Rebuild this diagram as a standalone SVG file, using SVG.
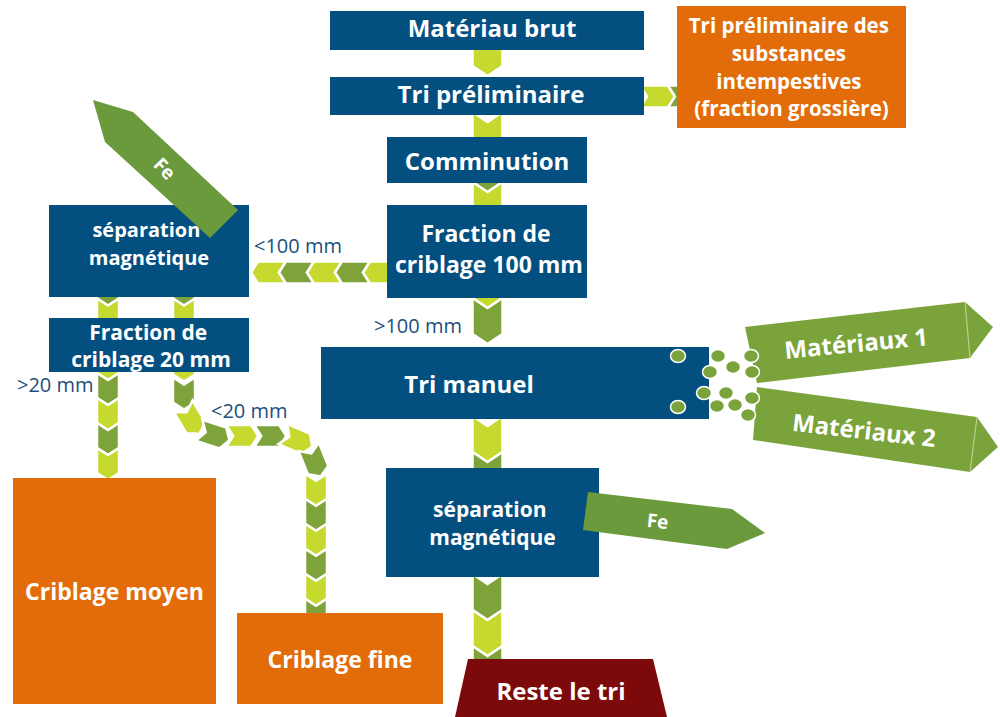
<svg xmlns="http://www.w3.org/2000/svg" width="1000" height="717" viewBox="0 0 1000 717">
  <style>
    .box { fill: #034f7f; }
    .org { fill: #e36c0a; }
    .red { fill: #7c0a0a; }
    .t { font-family: "Open Sans", "Liberation Sans", sans-serif; font-weight: bold; fill: #ffffff; text-anchor: middle; }
    .lbl { font-family: "Open Sans", "Liberation Sans", sans-serif; font-size: 20px; fill: #1d4f7c; }
    .lt { fill: #c6d92f; stroke: #ffffff; stroke-width: 2.5; stroke-linejoin: miter; }
    .dk { fill: #7ea33b; stroke: #ffffff; stroke-width: 2.5; stroke-linejoin: miter; }
    .fe { fill: #6a9a3c; }
    .mat { fill: #7ba33b; }
    .ridge { fill: none; stroke: #b9d08a; stroke-width: 1.2; }
    .dot { fill: #7ba33b; stroke: #ffffff; stroke-width: 1.5; }
  </style>
  <defs>
    <!-- chevron segments, pointing along +x -->
    <path id="cvM" d="M-18,-15H18L28,0L18,15H-18L-8,0Z"/>
    <path id="cvH" d="M-14,-11H14L21,0L14,11H-14L-7,0Z"/>
    <path id="cvS" d="M-12.5,-11H12.5L19.5,0L12.5,11H-12.5L-5.5,0Z"/>
  </defs>

  <rect width="1000" height="717" fill="#ffffff"/>

  <g id="connectors">
    <!-- main vertical flow -->
    <use href="#cvM" class="lt" transform="translate(487.5,48) rotate(90)"/>
    <use href="#cvM" class="lt" transform="translate(487.5,130) rotate(90)"/>
    <use href="#cvM" class="dk" transform="translate(487.5,164) rotate(90)"/>
    <use href="#cvM" class="lt" transform="translate(487.5,200) rotate(90)"/>
    <use href="#cvM" class="lt" transform="translate(487.5,280) rotate(90)"/>
    <use href="#cvM" class="dk" transform="translate(487.5,316) rotate(90)"/>
    <use href="#cvM" class="lt" transform="translate(487.5,434) rotate(90)"/>
    <use href="#cvM" class="dk" transform="translate(487.5,470) rotate(90)"/>
    <use href="#cvM" class="dk" transform="translate(487.5,592) rotate(90)"/>
    <use href="#cvM" class="lt" transform="translate(487.5,628) rotate(90)"/>
    <use href="#cvM" class="dk" transform="translate(487.5,664) rotate(90)"/>

    <!-- coarse fraction to the right -->
    <use href="#cvH" class="lt" transform="translate(654,96.5)"/>
    <use href="#cvH" class="dk" transform="translate(682,96.5)"/>

    <!-- <100 mm to the left -->
    <use href="#cvH" class="lt" transform="translate(272,272.5) rotate(180)"/>
    <use href="#cvH" class="dk" transform="translate(300,272.5) rotate(180)"/>
    <use href="#cvH" class="lt" transform="translate(328,272.5) rotate(180)"/>
    <use href="#cvH" class="dk" transform="translate(356,272.5) rotate(180)"/>
    <use href="#cvH" class="lt" transform="translate(384,272.5) rotate(180)"/>

    <!-- magnetic separation to 20 mm screen -->
    <use href="#cvS" class="dk" transform="translate(108,286) rotate(90)"/>
    <use href="#cvS" class="lt" transform="translate(108,311) rotate(90)"/>
    <use href="#cvS" class="dk" transform="translate(184,286) rotate(90)"/>
    <use href="#cvS" class="lt" transform="translate(184,311) rotate(90)"/>

    <!-- >20 mm -->
    <use href="#cvS" class="lt" transform="translate(108,360.5) rotate(90)"/>
    <use href="#cvS" class="dk" transform="translate(108,385.5) rotate(90)"/>
    <use href="#cvS" class="lt" transform="translate(108,410.5) rotate(90)"/>
    <use href="#cvS" class="dk" transform="translate(108,435.5) rotate(90)"/>
    <use href="#cvS" class="lt" transform="translate(108,460.5) rotate(90)"/>

    <!-- <20 mm, bent path -->
    <use href="#cvS" class="lt" transform="translate(184,362) rotate(90)"/>
    <use href="#cvS" class="dk" transform="translate(184,390) rotate(90)"/>
    <use href="#cvS" class="lt" transform="translate(189.5,417) rotate(59.15)"/>
    <use href="#cvS" class="dk" transform="translate(210.9,434.1) rotate(18)"/>
    <use href="#cvS" class="lt" transform="translate(238.7,436)"/>
    <use href="#cvS" class="dk" transform="translate(266.7,436)"/>
    <use href="#cvS" class="lt" transform="translate(294.3,439) rotate(23.46)"/>
    <use href="#cvS" class="dk" transform="translate(313.4,458.5) rotate(68)"/>
    <use href="#cvS" class="lt" transform="translate(316,486.2) rotate(90)"/>
    <use href="#cvS" class="dk" transform="translate(316,511.2) rotate(90)"/>
    <use href="#cvS" class="lt" transform="translate(316,536.2) rotate(90)"/>
    <use href="#cvS" class="dk" transform="translate(316,561.2) rotate(90)"/>
    <use href="#cvS" class="lt" transform="translate(316,586.2) rotate(90)"/>
    <use href="#cvS" class="dk" transform="translate(316,611.2) rotate(90)"/>

    <!-- size labels -->
    <text class="lbl" x="254" y="253">&lt;100 mm</text>
    <text class="lbl" x="374" y="333">&gt;100 mm</text>
    <text class="lbl" x="17" y="391.5">&gt;20 mm</text>
    <text class="lbl" x="211" y="418">&lt;20 mm</text>
  </g>

  <g id="raw-material">
    <rect class="box" x="330" y="11" width="314" height="39"/>
    <text class="t" x="492" y="37" font-size="24">Matériau brut</text>
  </g>

  <g id="pre-sorting">
    <rect class="box" x="330" y="77" width="314" height="38"/>
    <text class="t" x="491" y="103" font-size="24">Tri préliminaire</text>
  </g>

  <g id="coarse-fraction">
    <rect class="org" x="677" y="6" width="229" height="122"/>
    <text class="t" font-size="20.5">
      <tspan x="791.5" y="33">Tri préliminaire des</tspan>
      <tspan x="791.5" y="61">substances</tspan>
      <tspan x="791.5" y="89">intempestives</tspan>
      <tspan x="791.5" y="115.5">(fraction grossière)</tspan>
    </text>
  </g>

  <g id="comminution">
    <rect class="box" x="387" y="137" width="200" height="46"/>
    <text class="t" x="487" y="170" font-size="24">Comminution</text>
  </g>

  <g id="screen-100">
    <rect class="box" x="387" y="205" width="200" height="93"/>
    <text class="t" font-size="23">
      <tspan x="489" y="241.5">Fraction de</tspan>
      <tspan x="489" y="273">criblage 100 mm</tspan>
    </text>
  </g>

  <g id="magnetic-separation-1">
    <rect class="box" x="49" y="205" width="200" height="92"/>
    <text class="t" font-size="20">
      <tspan x="149" y="236.5">séparation</tspan>
      <tspan x="149" y="265">magnétique</tspan>
    </text>
  </g>

  <g id="fe-1">
    <polygon class="fe" points="93,100 133,112 238,210 210,238 105,142"/>
    <text class="t" font-size="19" transform="translate(164,169) rotate(46)" y="6">Fe</text>
  </g>

  <g id="screen-20">
    <rect class="box" x="49" y="318" width="200" height="54"/>
    <text class="t" font-size="21">
      <tspan x="151" y="340">Fraction de</tspan>
      <tspan x="151" y="366.5">criblage 20 mm</tspan>
    </text>
  </g>

  <g id="manual-sorting">
    <rect class="box" x="321" y="347" width="388" height="72"/>
    <text class="t" x="469" y="393" font-size="24">Tri manuel</text>
  </g>

  <g id="materials-1">
    <polygon class="mat" points="745,327 965,302 993,327 970,358 757,383"/>
    <line class="ridge" x1="965" y1="302" x2="970" y2="358"/>
    <text class="t" font-size="24" transform="translate(857,352) rotate(-5.5)">Matériaux 1</text>
  </g>

  <g id="materials-2">
    <polygon class="mat" points="757,387 977,417 998,447 970,472 753,440"/>
    <line class="ridge" x1="977" y1="417" x2="970" y2="472"/>
    <text class="t" font-size="24" transform="translate(863,439) rotate(6.5)">Matériaux 2</text>
  </g>

  <g id="sorted-items">
    <ellipse class="dot" cx="678" cy="356" rx="7.5" ry="6.5"/>
    <ellipse class="dot" cx="678" cy="407" rx="7.5" ry="6.5"/>
    <ellipse class="dot" cx="718" cy="356" rx="7.5" ry="6.5"/>
    <ellipse class="dot" cx="710" cy="372" rx="7.5" ry="6.5"/>
    <ellipse class="dot" cx="733" cy="367" rx="7.5" ry="6.5"/>
    <ellipse class="dot" cx="704" cy="393" rx="7.5" ry="6.5"/>
    <ellipse class="dot" cx="726" cy="393" rx="7.5" ry="6.5"/>
    <ellipse class="dot" cx="717" cy="406" rx="7.5" ry="6.5"/>
    <ellipse class="dot" cx="735" cy="405" rx="7.5" ry="6.5"/>
    <ellipse class="dot" cx="751" cy="356" rx="7.5" ry="6.5"/>
    <ellipse class="dot" cx="752" cy="372" rx="7.5" ry="6.5"/>
    <ellipse class="dot" cx="752" cy="398" rx="7.5" ry="6.5"/>
    <ellipse class="dot" cx="748" cy="415" rx="7.5" ry="6.5"/>
  </g>

  <g id="magnetic-separation-2">
    <rect class="box" x="386" y="468" width="213" height="109"/>
    <text class="t" font-size="21">
      <tspan x="492.5" y="516.5">séparation</tspan>
      <tspan x="492.5" y="545">magnétique</tspan>
    </text>
  </g>

  <g id="fe-2">
    <polygon class="fe" points="588,492 732,509 765,533 727,549 583,530"/>
    <text class="t" font-size="19" transform="translate(657,528) rotate(6)">Fe</text>
  </g>

  <g id="medium-screening">
    <rect class="org" x="13" y="478" width="203" height="226"/>
    <text class="t" x="114.5" y="600" font-size="23">Criblage moyen</text>
  </g>

  <g id="fine-screening">
    <rect class="org" x="237" y="613" width="206" height="91"/>
    <text class="t" x="340" y="668" font-size="23">Criblage fine</text>
  </g>

  <g id="residue">
    <polygon class="red" points="468,659 653,659 667,717 455,717"/>
    <text class="t" x="561" y="700" font-size="24">Reste le tri</text>
  </g>
</svg>
